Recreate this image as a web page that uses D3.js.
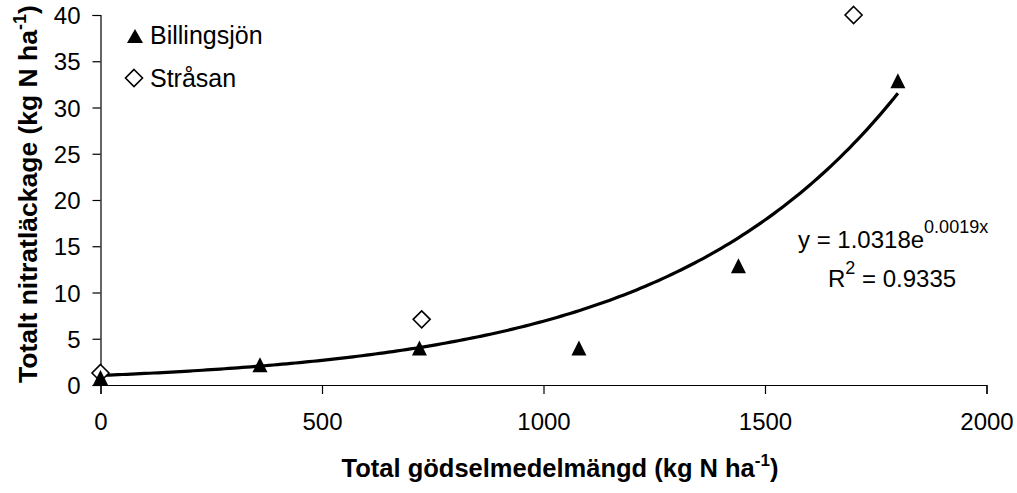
<!DOCTYPE html>
<html>
<head>
<meta charset="utf-8">
<script src="https://cdn.jsdelivr.net/npm/d3@7"></script>
<style>
  html, body { margin: 0; padding: 0; background: #fff; }
  svg { display: block; font-family: "Liberation Sans", Arial, sans-serif; }
</style>
</head>
<body>
<svg id="chart" width="1017" height="493"></svg>
<script>
// ---- data ----
const billingsjonX = [0, 360, 720, 1080, 1440, 1800];
const billingsjonY = [0.8, 2.2, 4.0, 4.0, 12.9, 32.9];
const strasanX = [0, 725, 1700];
const strasanY = [1.3, 7.1, 40];
const xTicks = [0, 500, 1000, 1500, 2000];
const yTicks = [0, 5, 10, 15, 20, 25, 30, 35, 40];
const trendA = 1.0318;   // y = a * e^(b x)
const trendB = 0.0019;
const trendR2 = "0.9335";
const trendXRange = [0, 1800];
const seriesNames = ["Billingsjön", "Stråsan"];

// ---- layout ----
const svg = d3.select("#chart");
const x = d3.scaleLinear().domain([0, 2000]).range([100.5, 986.5]);
const y = d3.scaleLinear().domain([0, 40]).range([385, 15]);

// axes
const xAxis = svg.append("g").attr("transform", "translate(0,385)")
  .call(d3.axisBottom(x).tickValues(xTicks).tickSize(9).tickPadding(19).tickFormat(d3.format("d")));
const yAxis = svg.append("g").attr("transform", "translate(100.5,0)")
  .call(d3.axisLeft(y).tickValues(yTicks).tickSize(8).tickPadding(12).tickFormat(d3.format("d")));
[xAxis, yAxis].forEach(g => {
  g.select(".domain").attr("stroke", "#000").attr("stroke-width", 1.2);
  g.selectAll(".tick line").attr("stroke", "#000").attr("stroke-width", 1.2);
  g.selectAll(".tick text").attr("fill", "#000").style("font-size", "24px")
    .style("font-family", "'Liberation Sans', Arial, sans-serif");
});
yAxis.selectAll(".tick text").attr("dy", "0.36em");
xAxis.selectAll(".tick text").attr("dy", "0.71em");

// trend line
const trendXs = d3.range(trendXRange[0], trendXRange[1] + 1, 10);
const line = d3.line().x(d => x(d)).y(d => y(trendA * Math.exp(trendB * d)));
svg.append("path").datum(trendXs).attr("d", line)
  .attr("fill", "none").attr("stroke", "#000").attr("stroke-width", 3.2);

// markers
const tri = (w, h) => `M0,${-h / 2}L${w / 2},${h / 2}L${-w / 2},${h / 2}Z`;
const dia = (s) => `M0,${-s}L${s},0L0,${s}L${-s},0Z`;

svg.append("g").selectAll("path").data(strasanX.map((v, i) => [v, strasanY[i]]))
  .join("path").attr("d", dia(8.5))
  .attr("transform", d => `translate(${x(d[0])},${y(d[1])})`)
  .attr("fill", "#fff").attr("stroke", "#000").attr("stroke-width", 1.6);

svg.append("g").selectAll("path").data(billingsjonX.map((v, i) => [v, billingsjonY[i]]))
  .join("path").attr("d", tri(15, 15))
  .attr("transform", d => `translate(${x(d[0])},${y(d[1])})`)
  .attr("fill", "#000");

// legend
const leg = svg.append("g");
leg.append("path").attr("d", tri(16, 14)).attr("transform", "translate(135,36)").attr("fill", "#000");
leg.append("text").attr("x", 150).attr("y", 44).style("font-size", "25px").text(seriesNames[0]);
leg.append("path").attr("d", dia(8.5)).attr("transform", "translate(134,78)")
  .attr("fill", "#fff").attr("stroke", "#000").attr("stroke-width", 1.6);
leg.append("text").attr("x", 150).attr("y", 87).style("font-size", "25px").text(seriesNames[1]);

// equation
const eq = svg.append("text").attr("x", 798).attr("y", 248).style("font-size", "24px");
eq.append("tspan").text("y = " + trendA.toFixed(4) + "e");
eq.append("tspan").attr("dy", -15).style("font-size", "18px").text(trendB.toFixed(4) + "x");
const r2 = svg.append("text").attr("x", 828).attr("y", 287).style("font-size", "24px");
r2.append("tspan").text("R");
r2.append("tspan").attr("dy", -13).style("font-size", "18px").text("2");
r2.append("tspan").attr("dy", 13).text(" = " + trendR2);

// axis titles
const xt = svg.append("text").attr("x", 560).attr("y", 477).attr("text-anchor", "middle")
  .style("font-size", "25.5px").style("font-weight", "bold");
xt.append("tspan").text("Total gödselmedelmängd (kg N ha");
xt.append("tspan").attr("dy", -11).style("font-size", "17px").text("-1");
xt.append("tspan").attr("dy", 11).text(")");

const yt = svg.append("text").attr("transform", "translate(37,194) rotate(-90)").attr("text-anchor", "middle")
  .style("font-size", "26.5px").style("font-weight", "bold");
yt.append("tspan").text("Totalt nitratläckage (kg N ha");
yt.append("tspan").attr("dy", -11).style("font-size", "18px").text("-1");
yt.append("tspan").attr("dy", 11).text(")");
</script>
</body>
</html>
